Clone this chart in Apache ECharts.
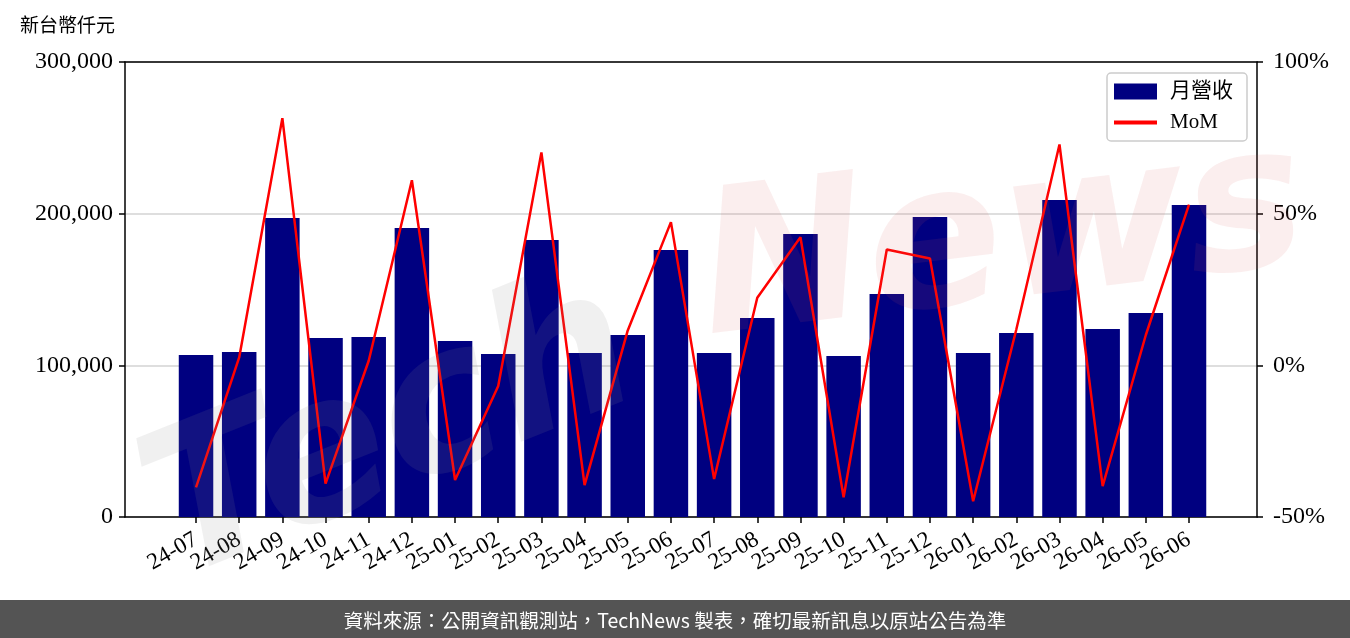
<!DOCTYPE html>
<html lang="zh-Hant">
  <head>
    <meta charset="utf-8" />
    <title>月營收與 MoM</title>
    <script src="https://cdn.jsdelivr.net/npm/echarts@6/dist/echarts.min.js"></script>
    <style>
      html, body { margin: 0; padding: 0; background: #fff; }
      #chart { width: 1350px; height: 638px; }
    </style>
  </head>
  <body>
    <div id="chart"></div>
    <script>
      // months shown on the x axis
      var months = ['24-07', '24-08', '24-09', '24-10', '24-11', '24-12',
        '25-01', '25-02', '25-03', '25-04', '25-05', '25-06',
        '25-07', '25-08', '25-09', '25-10', '25-11', '25-12',
        '26-01', '26-02', '26-03', '26-04', '26-05', '26-06']
      // monthly revenue, NT$ thousands
      var revenue = [106800, 108800, 197100, 118000, 118700, 190500,
        116000, 107500, 182600, 108100, 120000, 176000,
        108100, 131200, 186600, 106100, 147000, 197800,
        108100, 121300, 209000, 123900, 134500, 205700]
      // month over month change, %
      var mom = [-40.2, 2.6, 81.5, -39.0, 1.5, 61.0,
        -37.8, -6.8, 70.2, -39.5, 11.5, 47.2,
        -37.5, 22.3, 42.2, -43.5, 38.2, 35.2,
        -44.8, 11.8, 72.8, -39.8, 10.0, 53.0]

      var serif = '"Liberation Serif", "Noto Sans CJK TC", serif'
      var cjk = '"Noto Sans CJK TC", sans-serif'
      var black = { color: '#000', width: 1.5 }
      var xMin = -1.645, xMax = 24.575

      var chart = echarts.init(document.getElementById('chart'), null, { renderer: 'canvas' })

      var idx = months.map(function (m, i) { return i })
      // labels are split over two axes so that the overlap check keeps them all
      var evenIdx = idx.filter(function (i) { return i % 2 === 0 })
      var oddIdx = idx.filter(function (i) { return i % 2 === 1 })

      function monthLabels (values) {
        return {
          customValues: values,
          rotate: 30,
          margin: 21,
          showMinLabel: true, showMaxLabel: true, hideOverlap: false,
          fontFamily: serif, fontSize: 23, color: '#000',
          formatter: function (v) { return months[Math.round(v)] }
        }
      }

      chart.setOption({
        animation: false,
        backgroundColor: '#ffffff',
        grid: {
          left: 125, right: 93, top: 62, bottom: 121,
          containLabel: false
        },
        legend: {
          orient: 'vertical',
          right: 103, top: 73,
          itemWidth: 43, itemHeight: 16, itemGap: 10,
          padding: [8, 14, 8, 7],
          borderColor: '#cccccc', borderWidth: 1.5, borderRadius: 4,
          backgroundColor: 'rgba(255,255,255,0.85)',
          textStyle: { fontFamily: serif, fontSize: 21, color: '#000', padding: [0, 0, 0, 8] },
          data: [
            { name: '月營收', icon: 'rect' },
            { name: 'MoM', icon: 'path://M0,0 L40,0 L40,3.5 L0,3.5 Z' }
          ]
        },
        xAxis: [
          {
            type: 'value',
            min: xMin, max: xMax,
            axisLine: { show: true, onZero: false, lineStyle: black },
            axisTick: { show: true, length: 6, customValues: idx, lineStyle: black },
            axisLabel: monthLabels(evenIdx),
            splitLine: { show: false }
          },
          {
            type: 'value',
            position: 'bottom',
            min: xMin, max: xMax,
            axisLine: { show: false, onZero: false },
            axisTick: { show: false },
            axisLabel: monthLabels(oddIdx),
            splitLine: { show: false }
          },
          {
            // top frame line
            type: 'value',
            position: 'top',
            min: 0, max: 1,
            axisLine: { show: true, onZero: false, lineStyle: black },
            axisTick: { show: false },
            axisLabel: { show: false },
            splitLine: { show: false }
          }
        ],
        yAxis: [
          {
            type: 'value',
            min: 0, max: 300000, interval: 100000,
            position: 'left',
            axisLine: { show: true, onZero: false, lineStyle: black },
            axisTick: { show: true, length: 6, lineStyle: black },
            axisLabel: {
              fontFamily: serif, fontSize: 24, color: '#000', margin: 12,
              formatter: function (v) { return String(v).replace(/\B(?=(\d{3})+(?!\d))/g, ',') }
            },
            splitLine: { show: true, lineStyle: { color: '#d3d3d3', width: 1.5 } }
          },
          {
            type: 'value',
            min: -50, max: 100, interval: 50,
            position: 'right',
            axisLine: { show: true, onZero: false, lineStyle: black },
            axisTick: { show: true, length: 6, lineStyle: black },
            axisLabel: {
              fontFamily: serif, fontSize: 24, color: '#000', margin: 16,
              formatter: function (v) { return v + '%' }
            },
            splitLine: { show: false }
          }
        ],
        series: [
          {
            name: '月營收',
            type: 'bar',
            xAxisIndex: 0,
            yAxisIndex: 0,
            barWidth: 34.5,
            itemStyle: { color: '#000080' },
            data: revenue.map(function (v, i) { return [i, v] }),
            z: 2
          },
          {
            name: 'MoM',
            type: 'line',
            xAxisIndex: 0,
            yAxisIndex: 1,
            symbol: 'none',
            lineStyle: { color: '#ff0000', width: 2.5 },
            itemStyle: { color: '#ff0000' },
            data: mom.map(function (v, i) { return [i, v] }),
            z: 3
          }
        ],
        graphic: [
          // unit label
          {
            type: 'text', left: 20, top: 15, z: 60,
            style: { text: '新台幣仟元', fontFamily: cjk, fontSize: 19, fill: '#000' }
          },
          // faint TechNews watermark
          {
            type: 'text', left: 120, top: 250, rotation: 0.38, z: 100, silent: true,
            style: { text: 'Tech', fontFamily: '"DejaVu Sans"', fontStyle: 'italic', fontWeight: 'bold',
              fontSize: 200, fill: 'rgba(140,140,140,0.13)' }
          },
          {
            type: 'text', left: 690, top: 110, rotation: 0.12, z: 100, silent: true,
            style: { text: 'News', fontFamily: '"DejaVu Sans"', fontStyle: 'italic', fontWeight: 'bold',
              fontSize: 200, fill: 'rgba(220,90,90,0.1)' }
          },
          // footer
          {
            type: 'rect', left: 0, bottom: 0, z: 50,
            shape: { width: 1350, height: 38 },
            style: { fill: '#545454' }
          },
          {
            type: 'text', left: 'center', bottom: 8, z: 51,
            style: { text: '資料來源：公開資訊觀測站，TechNews 製表，確切最新訊息以原站公告為準',
              fontFamily: cjk, fontSize: 19.5, fill: '#ffffff' }
          }
        ]
      })
    </script>
  </body>
</html>
